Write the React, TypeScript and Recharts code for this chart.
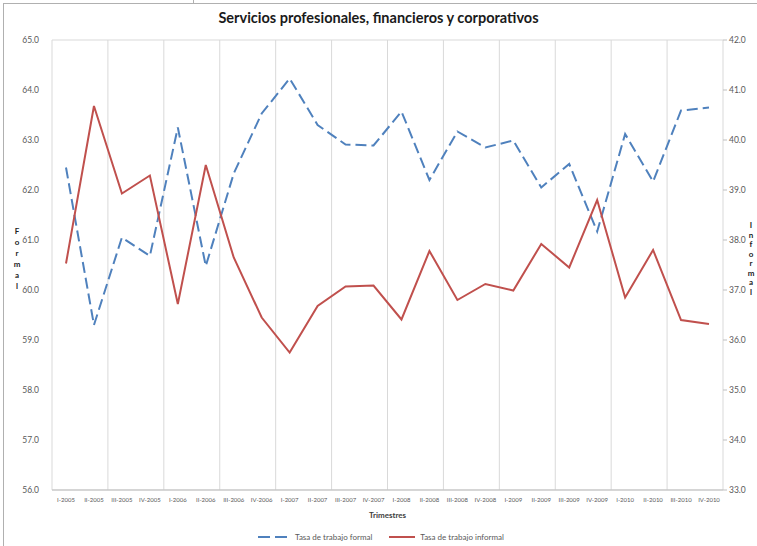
import React from 'react';
import { LineChart, Line, XAxis, YAxis, CartesianGrid, Legend } from 'recharts';

const quarters = [
  'I-2005', 'II-2005', 'III-2005', 'IV-2005',
  'I-2006', 'II-2006', 'III-2006', 'IV-2006',
  'I-2007', 'II-2007', 'III-2007', 'IV-2007',
  'I-2008', 'II-2008', 'III-2008', 'IV-2008',
  'I-2009', 'II-2009', 'III-2009', 'IV-2009',
  'I-2010', 'II-2010', 'III-2010', 'IV-2010',
];

const formalRate = [
  62.45, 59.3, 61.05, 60.68, 63.25, 60.48, 62.33, 63.53,
  64.23, 63.3, 62.91, 62.89, 63.57, 62.2, 63.17, 62.85,
  62.99, 62.05, 62.52, 61.17, 63.12, 62.17, 63.59, 63.65,
];

const informalRate = [
  37.53, 40.68, 38.93, 39.29, 36.72, 39.5, 37.65, 36.45,
  35.75, 36.68, 37.07, 37.09, 36.41, 37.78, 36.8, 37.12,
  36.99, 37.92, 37.45, 38.8, 36.85, 37.8, 36.4, 36.32,
];

const leftTicks = [56, 57, 58, 59, 60, 61, 62, 63, 64, 65];
const rightTicks = [33, 34, 35, 36, 37, 38, 39, 40, 41, 42];

const data = quarters.map((q, i) => ({
  q,
  formal: formalRate[i],
  informal: informalRate[i],
}));

const FONT = 'Lato, "Open Sans", sans-serif';
const TEXT = '#595959';

// letters stacked one under another, like the Excel vertical axis titles
const stacked = (word: string, x: number, y: number, step: number) =>
  word.split('').map((c, i) => (
    <text key={word + i} x={x} y={y + i * step} textAnchor="middle" fontFamily={FONT} fontSize={8} fontWeight={700} fill="#222">
      {c}
    </text>
  ));

const renderLegend = () => (
  <div style={{ display: 'flex', justifyContent: 'center', alignItems: 'center', fontFamily: FONT, fontSize: 8, lineHeight: '10px', color: TEXT, paddingTop: 10, paddingLeft: 4 }}>
    <svg width={34} height={8}>
      <line x1={1} y1={4} x2={33} y2={4} stroke="#4f81bd" strokeWidth={2} strokeDasharray="12 5" />
    </svg>
    <span style={{ marginLeft: 4, marginRight: 16 }}>Tasa de trabajo formal</span>
    <svg width={28} height={8}>
      <line x1={1} y1={4} x2={27} y2={4} stroke="#c0504d" strokeWidth={2} />
    </svg>
    <span style={{ marginLeft: 4 }}>Tasa de trabajo informal</span>
  </div>
);

export default function App() {
  return (
    <div style={{ position: 'absolute', left: 0, top: 0, width: 757, height: 546, background: '#fff', overflow: 'hidden' }}>
      <div style={{ position: 'absolute', left: 3, top: 3, width: 754, height: 543, borderLeft: '1px solid #b0b0b0', borderTop: '1px solid #b0b0b0' }} />
      <div style={{ position: 'absolute', left: 193, top: 0, width: 1, height: 3, background: '#b0b0b0' }} />
      <div style={{ position: 'absolute', top: 9, left: 0, width: 757, textAlign: 'center', fontFamily: FONT, fontWeight: 700, fontSize: 14.5, color: '#1a1a1a' }}>
        Servicios profesionales, financieros y corporativos
      </div>
      <div style={{ position: 'absolute', left: 0, top: 0 }}>
        <LineChart
          width={757}
          height={546}
          data={data}
          margin={{ top: 40, right: 0, bottom: 0, left: 0 }}
        >
          <CartesianGrid
            stroke="#d9d9d9"
            verticalCoordinatesGenerator={({ offset }: any) =>
              Array.from({ length: 13 }, (_, i) => offset.left + (i * offset.width) / 12)
            }
          />
          <XAxis
            dataKey="q"
            interval={0}
            height={32}
            padding={{ left: 14, right: 14 }}
            tick={{ fontSize: 6, fill: TEXT, fontFamily: FONT }}
            tickLine={false}
            axisLine={{ stroke: '#bfbfbf' }}
            label={{ value: 'Trimestres', position: 'insideBottom', offset: 4, style: { fontSize: 8, fontWeight: 700, fill: '#404040', fontFamily: FONT } }}
          />
          <YAxis
            yAxisId="left"
            domain={[56, 65]}
            ticks={leftTicks}
            width={52}
            tickFormatter={(v: number) => v.toFixed(1)}
            tick={{ fontSize: 8.5, fill: TEXT, fontFamily: FONT, dx: -5 }}
            tickLine={false}
            axisLine={false}
          />
          <YAxis
            yAxisId="right"
            orientation="right"
            domain={[33, 42]}
            ticks={rightTicks}
            width={34}
            tickFormatter={(v: number) => v.toFixed(1)}
            tick={{ fontSize: 8.5, fill: TEXT, fontFamily: FONT }}
            tickLine={{ stroke: '#bfbfbf' }}
            tickSize={4}
            axisLine={false}
          />
          <Legend verticalAlign="bottom" height={24} content={renderLegend} />
          <Line
            yAxisId="left"
            dataKey="formal"
            stroke="#4f81bd"
            strokeWidth={2}
            strokeDasharray="11 5"
            dot={false}
            isAnimationActive={false}
          />
          <Line
            yAxisId="right"
            dataKey="informal"
            stroke="#c0504d"
            strokeWidth={2}
            dot={false}
            isAnimationActive={false}
          />
        </LineChart>
      </div>
      <svg width={757} height={546} style={{ position: 'absolute', left: 0, top: 0, pointerEvents: 'none' }}>
        {stacked('Formal', 17, 234, 11)}
        {stacked('Informal', 751, 228, 9.5)}
      </svg>
    </div>
  );
}
